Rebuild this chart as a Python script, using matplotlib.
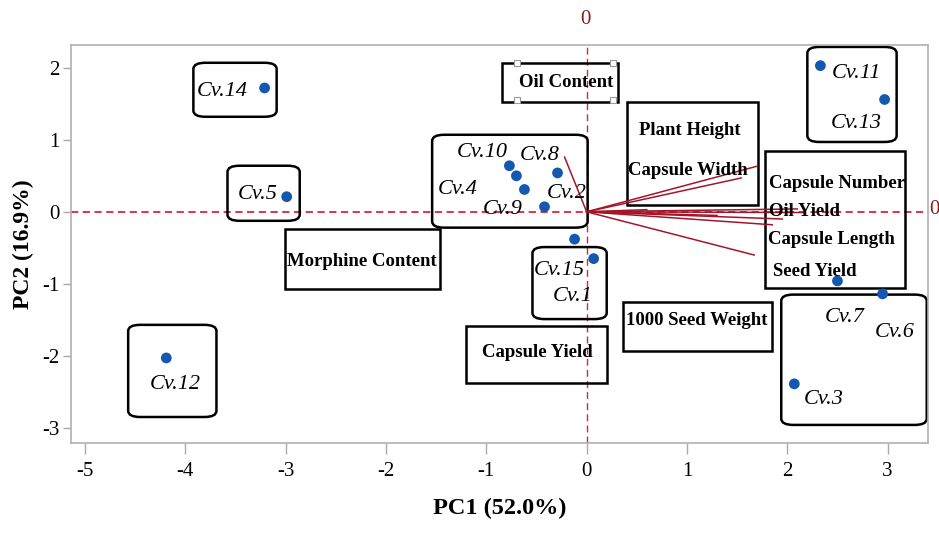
import matplotlib
matplotlib.use("Agg")
import matplotlib.pyplot as plt
from matplotlib.patches import FancyBboxPatch, Rectangle

# ---- data ----
cultivars = ["Cv.14", "Cv.5", "Cv.12", "Cv.10", "Cv.4", "Cv.9", "Cv.8", "Cv.2",
             "Cv.15", "Cv.1", "Cv.11", "Cv.13", "Cv.7", "Cv.6", "Cv.3"]
pc1 = [-3.21, -2.99, -4.19, -0.77, -0.70, -0.62, -0.29, -0.42,
       -0.12, 0.07, 2.33, 2.97, 2.50, 2.95, 2.07]
pc2 = [1.72, 0.21, -2.03, 0.64, 0.50, 0.31, 0.54, 0.07,
       -0.38, -0.65, 2.03, 1.56, -0.96, -1.14, -2.39]

variables = ["Plant Height", "Capsule Width", "Capsule Number", "Oil Yield",
             "Capsule Length", "1000 Seed Weight", "Seed Yield", "Oil Content",
             "Capsule Yield", "Morphine Content"]
load1 = [1.69, 1.54, 2.10, 2.15, 1.95, 1.85, 1.67, -0.22, 1.30, 0.60]
load2 = [0.63, 0.47, 0.04, -0.01, -0.10, -0.18, -0.60, 0.76, -0.05, 0.03]

xticks = [-5, -4, -3, -2, -1, 0, 1, 2, 3]
yticks = [-3, -2, -1, 0, 1, 2]
xlabel = "PC1 (52.0%)"
ylabel = "PC2 (16.9%)"

# ---- label layout (data coords) ----
cv_text = {
    "Cv.14": (-3.63, 1.67), "Cv.5": (-3.28, 0.24), "Cv.12": (-4.10, -2.40),
    "Cv.10": (-1.04, 0.83), "Cv.8": (-0.47, 0.78), "Cv.4": (-1.29, 0.31),
    "Cv.9": (-0.84, 0.03), "Cv.2": (-0.20, 0.26), "Cv.15": (-0.27, -0.81),
    "Cv.1": (-0.14, -1.17), "Cv.11": (2.69, 1.92), "Cv.13": (2.69, 1.22),
    "Cv.7": (2.57, -1.47), "Cv.6": (3.07, -1.67), "Cv.3": (2.36, -2.61),
}
cv_boxes = [(-3.92, 1.32, -3.09, 2.07), (-3.58, -0.125, -2.86, 0.64),
            (-4.57, -2.85, -3.69, -1.57), (-1.54, -0.22, 0.01, 1.07),
            (-0.54, -1.49, 0.20, -0.49), (2.20, 0.97, 3.09, 2.29),
            (1.94, -2.96, 3.39, -1.15)]
var_text = {
    "Oil Content": (-0.20, 1.79), "Plant Height": (1.03, 1.125),
    "Capsule Width": (1.01, 0.58), "Capsule Number": (2.50, 0.40),
    "Oil Yield": (2.17, 0.0), "Capsule Length": (2.44, -0.39),
    "Seed Yield": (2.27, -0.83), "Morphine Content": (-2.24, -0.69),
    "Capsule Yield": (-0.49, -1.96), "1000 Seed Weight": (1.10, -1.51),
}
var_boxes = [(-0.84, 1.53, 0.31, 2.07), (0.40, 0.10, 1.71, 1.53),
             (1.78, -1.06, 3.17, 0.85), (-3.01, -1.07, -1.46, -0.24),
             (-1.20, -2.375, 0.20, -1.58), (0.36, -1.94, 1.85, -1.25)]

serif = ["Liberation Serif", "DejaVu Serif"]

fig = plt.figure(figsize=(9.39, 5.33), dpi=100)
ax = fig.add_axes([0.0756, 0.169, 0.9124, 0.747])
ax.set_xlim(-5.14, 3.40)
ax.set_ylim(-3.21, 2.32)

dash_red = "#d8263a"
ax.axhline(0, color=dash_red, lw=1.3, ls=(0, (4, 2.5)), zorder=1)
ax.axvline(0, color=dash_red, lw=1.0, ls=(0, (5, 3)), zorder=1)

for x0, y0, x1, y1 in cv_boxes:
    ax.add_patch(FancyBboxPatch((x0, y0), x1 - x0, y1 - y0,
                                boxstyle="round,pad=0,rounding_size=0.12",
                                mutation_aspect=0.72,
                                fc="none", ec="black", lw=1.8, zorder=2))
for x0, y0, x1, y1 in var_boxes:
    ax.add_patch(Rectangle((x0, y0), x1 - x0, y1 - y0,
                           fc="none", ec="black", lw=1.8, zorder=2))

# selection handles around "Oil Content"
hx = [-0.69, 0.26, -0.69, 0.26]
hy = [2.07, 2.07, 1.55, 1.55]
ax.plot(hx, hy, ls="none", marker="s", ms=4, mfc="white", mec="#999999",
        mew=0.8, zorder=3)

for a, b in zip(load1, load2):
    ax.plot([0, a], [0, b], color="#a3162a", lw=1.1, zorder=3)

ax.scatter(pc1, pc2, s=60, color="#1558b0", zorder=5, edgecolors="none")

for name, (x, y) in cv_text.items():
    ax.text(x, y, name, ha="center", va="center", fontsize=16,
            style="italic", family=serif, color="black", zorder=6)
for name, (x, y) in var_text.items():
    ax.text(x, y, name, ha="center", va="center", fontsize=13.5,
            fontweight="bold", family=serif, color="black", zorder=6)

ax.set_xticks(xticks)
ax.set_yticks(yticks)
ax.set_xticklabels([str(t) for t in xticks], family=serif, fontsize=15)
ax.set_yticklabels([str(t) for t in yticks], family=serif, fontsize=15)
ax.tick_params(axis="x", length=8, width=1, color="#aaaaaa", pad=6)
ax.tick_params(axis="y", length=6, width=1, color="#aaaaaa", pad=2)
for s in ax.spines.values():
    s.set_color("#b0b0b0")
    s.set_linewidth(1.2)

ax.set_xlabel(xlabel, family=serif, fontsize=17.5, fontweight="bold", labelpad=12)
ax.set_ylabel(ylabel, family=serif, fontsize=17, fontweight="bold", labelpad=6)

fig.text(585 / 939, 1 - 20 / 533, "0", color="#8b1a1a", family=serif,
         fontsize=15, ha="center", va="center")
fig.text(929 / 939, 1 - 210 / 533, "0", color="#8b1a1a", family=serif,
         fontsize=15, ha="left", va="center")

fig.savefig("out.png", dpi=100)
